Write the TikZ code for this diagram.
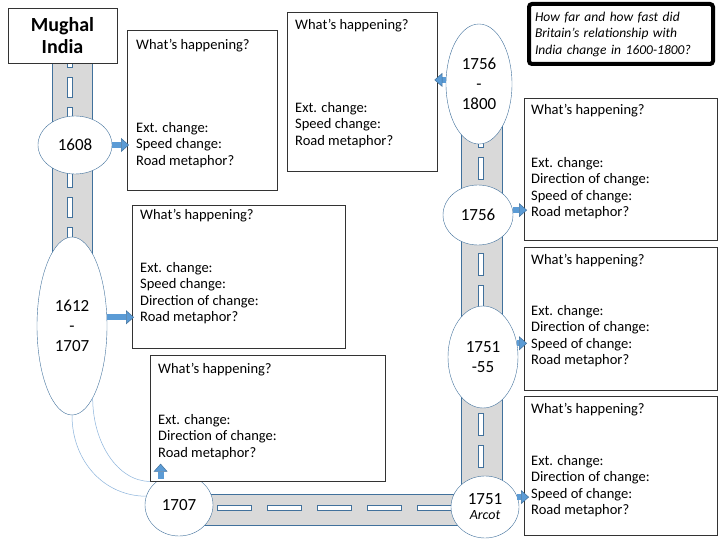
\documentclass[tikz,border=0pt]{standalone}
\usepackage{fontspec}
\setmainfont{Carlito}
\usetikzlibrary{shapes.geometric, arrows.meta, calc}
\definecolor{roadgray}{RGB}{217,217,217}
\definecolor{roadedge}{RGB}{65,113,156}
\definecolor{arrowblue}{RGB}{91,155,213}
\definecolor{trailblue}{RGB}{140,180,220}

\begin{document}
\begin{tikzpicture}[x=1pt, y=-1pt,
    yearoval/.style={draw=roadedge, fill=white, ellipse, inner sep=0pt, align=center, font=\fontsize{17}{20}\selectfont},
    infobox/.style={draw=black!80, fill=white, anchor=north west, inner sep=0pt},
    boxtext/.style={anchor=north west, align=left, inner sep=0pt, font=\fontsize{14.5}{16.5}\selectfont},
    road/.style={draw=roadedge, fill=roadgray, line width=0.6pt},
    roaddash/.style={draw=roadedge, fill=white, line width=0.5pt},
    blockarrow/.style={draw=arrowblue, line width=6pt, -{Triangle[width=14pt, length=8pt, line width=0.5pt, fill=arrowblue, color=roadedge]}},
    trail/.style={draw=trailblue, line width=0.5pt}]
    \useasboundingbox (0,0) rectangle (720,540);
    \fill[white] (0,0) rectangle (720,540);

    % roads
    \draw[road] (52,63) rectangle (92,300);
    \draw[road] (179,494) rectangle (485,525);
    \draw[road] (461,84) rectangle (502,507);
    \foreach \y in {47,77,...,227}
        \draw[roaddash] (67,\y) rectangle (72,{\y+20});
    \foreach \x in {217,267,...,417}
        \draw[roaddash] (\x,505) rectangle ({\x+34},510);
    \foreach \y in {125,157,...,477}
        \draw[roaddash] (478,\y) rectangle (483,{\y+22});

    % years on the road
    \node[yearoval, minimum width=74, minimum height=58] (e1608) at (75,145) {1608};
    \node[yearoval, minimum width=70, minimum height=178] (e1612) at (72,326) {1612\\-\\1707};
    \node[yearoval, minimum width=68, minimum height=62] (e1707) at (179,505) {1707};
    \node[yearoval, minimum width=68, minimum height=62] (e1751) at (485,507) {1751\\[-5pt]{\fontsize{14}{15}\selectfont\itshape Arcot}};
    \node[yearoval, minimum width=70, minimum height=102] (e1755) at (483,357) {1751\\-55};
    \node[yearoval, minimum width=70, minimum height=60] (e1756) at (478,215) {1756};
    \node[yearoval, minimum width=66, minimum height=120] (e1800) at (479,84) {1756\\-\\1800};

    \node[draw=black!80, fill=white, minimum width=109, minimum height=55, align=center,
          font=\fontsize{20}{22}\selectfont\bfseries] (title) at (62.5,35.5) {Mughal\\India};
    \node[draw=black, line width=4pt, rounded corners=3pt, fill=white, text width=172, inner xsep=6,
          minimum height=60, align=left, font=\fontsize{13.5}{16.5}\selectfont\itshape] (question)
          at (621,34) {How far and how fast did\\Britain's relationship with\\India change in 1600-1800?};

    % what's happening boxes
    \node[infobox, minimum width=150, minimum height=160] (b1608) at (127,30) {};
    \node[boxtext] at ($(b1608.north west)+(9,9)$) {What's happening?};
    \node[boxtext] at ($(b1608.north west)+(9,92)$) {Ext. change:\\Speed change:\\Road metaphor?};

    \node[infobox, minimum width=213, minimum height=143] (b1612) at (132,205) {};
    \node[boxtext] at ($(b1612.north west)+(8,4)$) {What's happening?};
    \node[boxtext] at ($(b1612.north west)+(8,57)$) {Ext. change:\\Speed change:\\Direction of change:\\Road metaphor?};

    \node[infobox, minimum width=235, minimum height=126] (b1707) at (150,355) {};
    \node[boxtext] at ($(b1707.north west)+(8,8)$) {What's happening?};
    \node[boxtext] at ($(b1707.north west)+(8,59)$) {Ext. change:\\Direction of change:\\Road metaphor?};

    \node[infobox, minimum width=150, minimum height=159] (b1800) at (287,12) {};
    \node[boxtext] at ($(b1800.north west)+(8,7)$) {What's happening?};
    \node[boxtext] at ($(b1800.north west)+(8,90)$) {Ext. change:\\Speed change:\\Road metaphor?};

    \node[infobox, minimum width=193, minimum height=142] (b1756) at (524,98) {};
    \node[boxtext] at ($(b1756.north west)+(7,6)$) {What's happening?};
    \node[boxtext] at ($(b1756.north west)+(7,59)$) {Ext. change:\\Direction of change:\\Speed of change:\\Road metaphor?};

    \node[infobox, minimum width=193, minimum height=143] (b1755) at (524,247) {};
    \node[boxtext] at ($(b1755.north west)+(7,7)$) {What's happening?};
    \node[boxtext] at ($(b1755.north west)+(7,58)$) {Ext. change:\\Direction of change:\\Speed of change:\\Road metaphor?};

    \node[infobox, minimum width=193, minimum height=139] (b1751) at (524,396) {};
    \node[boxtext] at ($(b1751.north west)+(7,7)$) {What's happening?};
    \node[boxtext] at ($(b1751.north west)+(7,59)$) {Ext. change:\\Direction of change:\\Speed of change:\\Road metaphor?};

    % arrows from the years to their boxes
    \coordinate (tip1707) at ($(e1707.125)+(0,-15)$);
    \draw[blockarrow] (e1608.east) -- ($(b1608.west |- e1608.east)+(2,0)$);
    \draw[blockarrow] (e1612.14) -- ($(b1612.west |- e1612.14)+(2,0)$);
    \draw[blockarrow] (e1707.125) -- (tip1707);
    \draw[blockarrow] (e1800.173) -- ($(b1800.east |- e1800.173)+(-3,0)$);
    \draw[blockarrow] (e1756.8) -- ($(b1756.west |- e1756.8)+(3,0)$);
    \draw[blockarrow] (e1755.22) -- ($(b1755.west |- e1755.22)+(3,0)$);
    \draw[blockarrow] (e1751.17) -- ($(b1751.west |- e1751.17)+(5,0)$);

    % side track
    \draw[trail] (e1612.south) .. controls +(0,46) and +(-42,0) .. (e1707.165);
    \draw[trail] (e1612.-74) .. controls +(0,45) and +(-32,0) .. (b1707.south west);
\end{tikzpicture}
\end{document}
